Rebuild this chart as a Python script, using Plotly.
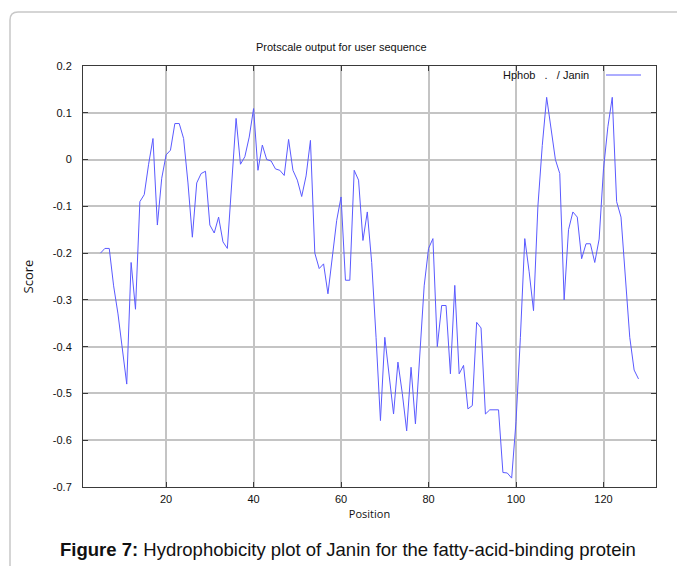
import plotly.graph_objects as go

positions = [5, 6, 7, 8, 9, 10, 11, 12, 13, 14, 15, 16, 17, 18, 19, 20,
             21, 22, 23, 24, 25, 26, 27, 28, 29, 30, 31, 32, 33, 34, 35, 36,
             37, 38, 39, 40, 41, 42, 43, 44, 45, 46, 47, 48, 49, 50, 51, 52,
             53, 54, 55, 56, 57, 58, 59, 60, 61, 62, 63, 64, 65, 66, 67, 68,
             69, 70, 71, 72, 73, 74, 75, 76, 77, 78, 79, 80, 81, 82, 83, 84,
             85, 86, 87, 88, 89, 90, 91, 92, 93, 94, 95, 96, 97, 98, 99, 100,
             101, 102, 103, 104, 105, 106, 107, 108, 109, 110, 111, 112, 113,
             114, 115, 116, 117, 118, 119, 120, 121, 122, 123, 124, 125, 126,
             127, 128]

scores = [-0.20, -0.19, -0.19, -0.27, -0.33, -0.40, -0.48, -0.22, -0.32, -0.09,
          -0.075, -0.01, 0.045, -0.14, -0.04, 0.01, 0.02, 0.077, 0.077, 0.045,
          -0.05, -0.166, -0.05, -0.03, -0.025, -0.14, -0.157, -0.123, -0.176, -0.19,
          -0.05, 0.088, -0.01, 0.006, 0.048, 0.109, -0.023, 0.031, 0.0, -0.003,
          -0.02, -0.023, -0.034, 0.043, -0.023, -0.044, -0.079, -0.035, 0.041, -0.20,
          -0.233, -0.223, -0.287, -0.21, -0.13, -0.08, -0.258, -0.258, -0.023, -0.044,
          -0.173, -0.112, -0.22, -0.38, -0.558, -0.38, -0.46, -0.544, -0.433, -0.50,
          -0.58, -0.444, -0.565, -0.408, -0.27, -0.19, -0.169, -0.40, -0.312, -0.312,
          -0.458, -0.269, -0.458, -0.44, -0.533, -0.526, -0.348, -0.36, -0.544, -0.535,
          -0.535, -0.535, -0.669, -0.67, -0.681, -0.56, -0.38, -0.169, -0.24, -0.323,
          -0.10, 0.03, 0.133, 0.07, 0.0, -0.03, -0.30, -0.15, -0.112, -0.123,
          -0.212, -0.18, -0.18, -0.22, -0.17, -0.02, 0.07, 0.133, -0.09, -0.123,
          -0.25, -0.38, -0.45, -0.469]

x_ticks = [20, 40, 60, 80, 100, 120]
y_ticks = [0.2, 0.1, 0, -0.1, -0.2, -0.3, -0.4, -0.5, -0.6, -0.7]
y_tick_labels = ["0.2", "0.1", "0", "-0.1", "-0.2", "-0.3", "-0.4", "-0.5", "-0.6", "-0.7"]

series_label = "Hphob&nbsp;&nbsp;&nbsp;.&nbsp;&nbsp;&nbsp;/ Janin"
line_color = "#5a5aff"

W, H = 677, 566
L, R, T, B = 83, 656, 66, 487


def px(xp):
    return (xp - L) / (R - L)


def py(yp):
    return (B - yp) / (B - T)


fig = go.Figure()
fig.add_trace(go.Scatter(x=positions, y=scores, mode="lines",
                         line=dict(color=line_color, width=1),
                         name="Hphob . / Janin", showlegend=False))

axis_common = dict(showline=True, linecolor="#3a3a3a", linewidth=1, mirror="ticks",
                   ticks="inside", ticklen=5, tickcolor="#3a3a3a", tickwidth=1,
                   showgrid=True, gridcolor="#c4c4c4", gridwidth=1.5, zeroline=False,
                   tickfont=dict(family="Liberation Sans, Arial", size=11, color="#111"))

fig.update_xaxes(range=[1, 132], tickvals=x_ticks, ticklabelstandoff=2,
                 title=dict(text="Position", font=dict(family="Open Sans", size=11, color="#111"),
                            standoff=6),
                 **axis_common)
fig.update_yaxes(range=[-0.7, 0.2], tickvals=y_ticks, ticktext=y_tick_labels,
                 ticklabelstandoff=8,
                 title=dict(text="Score", font=dict(family="Open Sans", size=13, color="#111"),
                            standoff=16),
                 **axis_common)

# card border
x_left = px(10)
x_corner = px(18)
x_right = px(700)
y_top = py(12)
y_corner = py(20)
y_bot = py(600)
fig.add_shape(type="path", xref="paper", yref="paper",
              path=f"M {x_left} {y_bot} L {x_left} {y_corner} Q {x_left} {y_top} {x_corner} {y_top} L {x_right} {y_top}",
              line=dict(color="#c8c8c8", width=1.5))

# legend sample
fig.add_shape(type="line", xref="paper", yref="paper",
              x0=px(606), x1=px(641), y0=py(75), y1=py(75),
              line=dict(color=line_color, width=1))

fig.add_annotation(xref="paper", yref="paper", x=px(591), y=py(75), xanchor="right",
                   yanchor="middle", showarrow=False, text=series_label,
                   font=dict(family="Liberation Sans, Arial", size=11, color="#111"))

fig.add_annotation(xref="paper", yref="paper", x=px(341), y=py(47), xanchor="center",
                   yanchor="middle", showarrow=False, text="Protscale output for user sequence",
                   font=dict(family="Liberation Sans, Arial", size=11, color="#111"))

fig.add_annotation(xref="paper", yref="paper", x=px(348), y=py(549), xanchor="center",
                   yanchor="middle", showarrow=False,
                   text="<b>Figure 7:</b> Hydrophobicity plot of Janin for the fatty-acid-binding protein",
                   font=dict(family="Liberation Sans, Arial", size=18.5, color="#111"))

fig.update_layout(width=W, height=H, margin=dict(l=L, r=W - R, t=T, b=H - B),
                  paper_bgcolor="white", plot_bgcolor="white")

fig.write_html("out.html")
